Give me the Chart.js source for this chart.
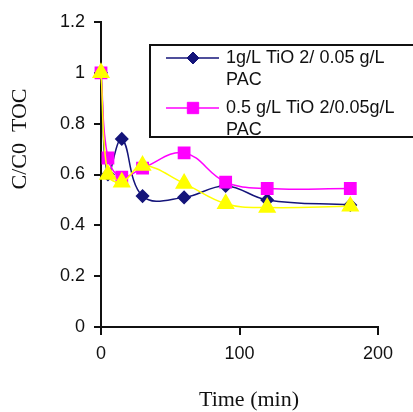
<!DOCTYPE html>
<html>
<head>
<meta charset="utf-8">
<script src="https://cdn.jsdelivr.net/npm/chart.js@4"></script>
<style>
  html, body { margin: 0; padding: 0; background: #fff; }
  #wrap { position: relative; width: 413px; height: 412px; }
</style>
</head>
<body>
<div id="wrap"><canvas id="tocChart" width="413" height="412"></canvas></div>
<script>
const times = [0, 5, 15, 30, 60, 90, 120, 180];
const tio2One = [1.0, 0.6, 0.74, 0.515, 0.51, 0.555, 0.5, 0.48];
const tio2Half = [1.0, 0.665, 0.59, 0.625, 0.685, 0.57, 0.545, 0.545];
const thirdSeries = [1.0, 0.6, 0.57, 0.635, 0.565, 0.485, 0.47, 0.475];
const legendLines = [
  ['1g/L TiO 2/ 0.05 g/L', 'PAC'],
  ['0.5 g/L TiO 2/0.05g/L', 'PAC']
];

const toPoints = vals => vals.map((v, i) => ({ x: times[i], y: v }));

// box legend like the Excel original, drawn on the canvas
const boxLegend = {
  id: 'boxLegend',
  afterDraw(chart) {
    const c = chart.ctx;
    c.save();
    c.fillStyle = '#fff';
    c.fillRect(150, 45, 270, 92);
    c.strokeStyle = '#111';
    c.lineWidth = 2;
    c.strokeRect(150, 45, 270, 92);
    c.font = '18px "Liberation Sans", Arial, sans-serif';
    c.textBaseline = 'middle';
    legendLines.forEach((lines, i) => {
      const ds = chart.data.datasets[i];
      const y = 58 + i * 50;
      c.strokeStyle = ds.borderColor;
      c.lineWidth = 1.5;
      c.beginPath();
      c.moveTo(166, y);
      c.lineTo(219, y);
      c.stroke();
      c.fillStyle = ds.pointBackgroundColor;
      c.strokeStyle = ds.pointBorderColor;
      c.lineWidth = 1;
      Chart.helpers.drawPoint(c, { pointStyle: ds.pointStyle, radius: ds.pointRadius, borderWidth: 1 }, 193, y);
      c.fillStyle = '#111';
      lines.forEach((t, j) => c.fillText(t, 226, y + j * 22));
    });
    c.restore();

    // axis titles
    c.save();
    c.fillStyle = '#111';
    c.font = '22px "Liberation Serif", "Times New Roman", serif';
    c.textAlign = 'center';
    c.textBaseline = 'middle';
    c.fillText('Time (min)', 249, 400);
    c.translate(20, 139);
    c.rotate(-Math.PI / 2);
    c.fillText('C/C0  TOC', 0, 0);
    c.restore();
  }
};

function makeSet(label, vals, color, style, radius, order) {
  return {
    label: label,
    data: toPoints(vals),
    borderColor: color,
    backgroundColor: color,
    pointBackgroundColor: color,
    pointBorderColor: color,
    pointStyle: style,
    pointRadius: radius,
    pointHoverRadius: radius,
    borderWidth: 1.5,
    tension: 0.4,
    clip: false,
    order: order
  };
}

new Chart(document.getElementById('tocChart'), {
  type: 'line',
  data: {
    datasets: [
      makeSet(legendLines[0].join(' '), tio2One, '#14147a', 'rectRot', 6, 3),
      makeSet(legendLines[1].join(' '), tio2Half, '#ff00ff', 'rect', 8, 2),
      makeSet('', thirdSeries, '#ffff00', 'triangle', 9, 1)
    ]
  },
  options: {
    responsive: false,
    animation: false,
    layout: { padding: { top: 22, right: 35, left: 0, bottom: 0 } },
    plugins: { legend: { display: false }, tooltip: { enabled: false } },
    scales: {
      x: {
        type: 'linear',
        min: 0,
        max: 200,
        afterFit: s => { s.height = 85; },
        ticks: {
          stepSize: 100,
          color: '#111',
          padding: 8,
          font: { family: '"Liberation Sans", Arial, sans-serif', size: 18 }
        },
        grid: { drawOnChartArea: false, drawTicks: true, tickLength: 8, color: '#111', lineWidth: 2 },
        border: { display: true, color: '#111', width: 2 }
      },
      y: {
        min: 0,
        max: 1.2,
        afterFit: s => { s.width = 101; },
        ticks: {
          stepSize: 0.2,
          color: '#111',
          padding: 9,
          font: { family: '"Liberation Sans", Arial, sans-serif', size: 18 },
          callback: v => Math.round(v * 10) / 10
        },
        grid: { drawOnChartArea: false, drawTicks: true, tickLength: 7, color: '#111', lineWidth: 2 },
        border: { display: true, color: '#111', width: 2 }
      }
    }
  },
  plugins: [boxLegend]
});
</script>
</body>
</html>
